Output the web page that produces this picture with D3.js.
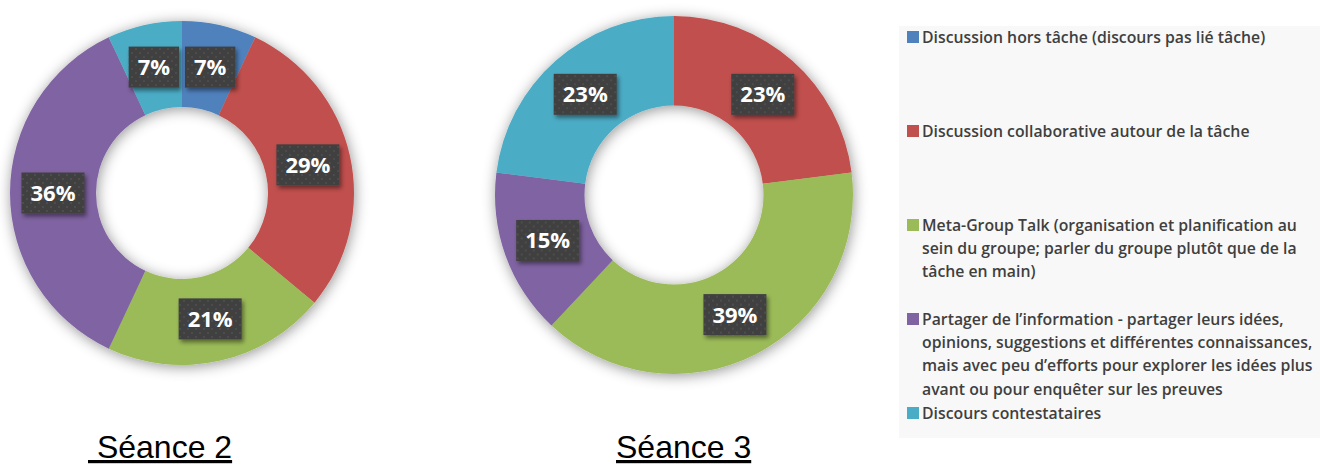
<!DOCTYPE html>
<html>
<head>
<meta charset="utf-8">
<script src="https://cdn.jsdelivr.net/npm/d3@7"></script>
<style>
  html, body { margin: 0; padding: 0; background: #fff; }
  svg { display: block; }
</style>
</head>
<body>
<div id="chart"></div>
<script>
// Categories (legend lines as wrapped in the original).
const categories = [
    ['Discussion hors tâche (discours pas lié tâche)'],
    ['Discussion collaborative autour de la tâche'],
    ['Meta-Group Talk (organisation et planification au',
     'sein du groupe; parler du groupe plutôt que de la',
     'tâche en main)'],
    ['Partager de l\u2019information - partager leurs idées,',
     'opinions, suggestions et différentes connaissances,',
     'mais avec peu d\u2019efforts pour explorer les idées plus',
     'avant ou pour enquêter sur les preuves'],
    ['Discours contestataires']
];
const colors = ['#4f81bd', '#c0504d', '#9bbb59', '#8064a2', '#4bacc6'];

// Percentages per session.
const seance2 = [7, 29, 21, 36, 7];
const seance3 = [0, 23, 39, 15, 23];

const sessions = [
    {title: '\u00a0Séance 2', values: seance2, cx: 182, cy: 193, r: 172},
    {title: 'Séance 3', values: seance3, cx: 674, cy: 195, r: 179}
];
const titlePos = [{x: 88, y: 458}, {x: 616, y: 458}];

const width = 1320, height = 466;

const svg = d3.select('#chart')
    .append('svg')
        .attr('width', width)
        .attr('height', height)
        .attr('viewBox', `0 0 ${width} ${height}`);

const defs = svg.append('defs');

// Soft shadow around the rings.
const ringShadow = defs.append('filter')
    .attr('id', 'ringShadow')
    .attr('x', '-20%').attr('y', '-20%')
    .attr('width', '140%').attr('height', '140%');
ringShadow.append('feDropShadow')
    .attr('dx', 1).attr('dy', 2)
    .attr('stdDeviation', 7)
    .attr('flood-color', '#000')
    .attr('flood-opacity', 0.42);

// Shadow under the label boxes.
const boxShadow = defs.append('filter')
    .attr('id', 'boxShadow')
    .attr('x', '-30%').attr('y', '-30%')
    .attr('width', '160%').attr('height', '160%');
boxShadow.append('feDropShadow')
    .attr('dx', 2).attr('dy', 3)
    .attr('stdDeviation', 2)
    .attr('flood-color', '#000')
    .attr('flood-opacity', 0.45);

// Dotted texture for label boxes.
const dots = defs.append('pattern')
    .attr('id', 'dots')
    .attr('width', 8).attr('height', 8)
    .attr('patternUnits', 'userSpaceOnUse');
dots.append('rect').attr('width', 8).attr('height', 8).attr('fill', '#3f3f3f');
dots.append('circle').attr('cx', 2).attr('cy', 2).attr('r', 0.9).attr('fill', '#555');
dots.append('circle').attr('cx', 6).attr('cy', 6).attr('r', 0.9).attr('fill', '#555');

const pie = d3.pie().sort(null).value(d => d);

sessions.forEach((s, i) => {
    const g = svg.append('g')
        .attr('transform', `translate(${s.cx},${s.cy})`);

    const arc = d3.arc().innerRadius(s.r / 2).outerRadius(s.r);
    const arcs = pie(s.values);

    // Add the slices.
    g.append('g')
        .attr('filter', 'url(#ringShadow)')
        .selectAll('path')
        .data(arcs.filter(d => d.value > 0))
        .enter()
        .append('path')
            .attr('d', arc)
            .attr('fill', d => colors[d.index]);

    // Add the labels.
    const labels = g.selectAll('g.label')
        .data(arcs.filter(d => d.value > 0))
        .enter()
        .append('g')
            .attr('class', 'label')
            .attr('transform', d => `translate(${arc.centroid(d)})`);

    labels.append('text')
        .attr('text-anchor', 'middle')
        .attr('dy', '0.36em')
        .style('font-family', '"Open Sans", sans-serif')
        .style('font-weight', 700)
        .style('font-size', '22px')
        .attr('fill', '#fff')
        .text(d => `${d.value}%`)
        .each(function() {
            const w = this.getComputedTextLength() + 18;
            d3.select(this.parentNode).insert('rect', 'text')
                .attr('x', -w / 2)
                .attr('y', -20.5)
                .attr('width', w)
                .attr('height', 41)
                .attr('fill', 'url(#dots)')
                .attr('filter', 'url(#boxShadow)');
        });

    // Add the title.
    svg.append('text')
        .attr('x', titlePos[i].x)
        .attr('y', titlePos[i].y)
        .style('font-family', '"Liberation Sans", Arial, sans-serif')
        .style('font-size', '32px')
        .style('text-decoration', 'underline')
        .attr('fill', '#000')
        .text(s.title);
});

// Add the legend.
const legend = svg.append('g');
legend.append('rect')
    .attr('x', 899).attr('y', 26)
    .attr('width', 421).attr('height', 412)
    .attr('fill', '#f8f8f8');

const item = legend.selectAll('g.item')
    .data(categories)
    .enter()
    .append('g')
        .attr('class', 'item')
        .attr('transform', (d, i) => `translate(907, ${37 + i * 94})`);

item.append('rect')
    .attr('x', 0).attr('y', -6)
    .attr('width', 12).attr('height', 12)
    .attr('fill', (d, i) => colors[i]);

item.append('text')
    .style('font-family', '"Open Sans", sans-serif')
    .style('font-weight', 600)
    .style('font-size', '15.8px')
    .attr('fill', '#3f3f3f')
    .selectAll('tspan')
    .data(d => d)
    .enter()
    .append('tspan')
        .attr('x', 15)
        .attr('y', (d, j) => j * 23.4)
        .attr('dy', '0.35em')
        .text(d => d);
</script>
</body>
</html>
